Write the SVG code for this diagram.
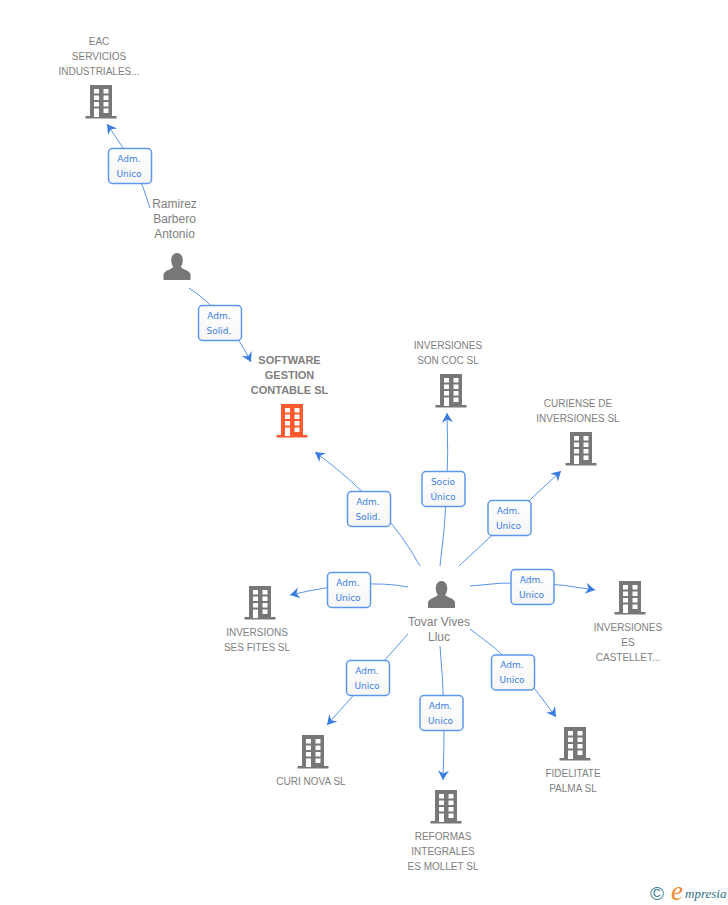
<svg xmlns="http://www.w3.org/2000/svg" width="728" height="905" viewBox="0 0 728 905">
<style>
.t{font-family:"Liberation Sans",Arial,sans-serif;font-size:10px;fill:#808080;text-anchor:middle}
.p{font-size:12px}
.b{font-size:11px;font-weight:bold}
.c{fill:none;stroke:#5a94ea;stroke-width:1;marker-end:url(#a)}
.box{fill:url(#g);stroke:#5c98ea;stroke-width:1.5}
.l{font-family:"DejaVu Sans",Verdana,sans-serif;font-size:9px;fill:#3a7de0;text-anchor:middle}
</style>
<defs>
<linearGradient id="g" x1="0" y1="0" x2="0" y2="1"><stop offset="0" stop-color="#fff"/><stop offset="1" stop-color="#f6f6f6"/></linearGradient>
<marker id="a" markerUnits="userSpaceOnUse" markerWidth="14" markerHeight="14" refX="12" refY="7" orient="auto" overflow="visible"><path d="M2.500 1.500L12 7L2.500 12.500L5.500 7Z" fill="#3a7de0"/></marker>
<g id="bld">
<path fill-rule="evenodd" d="M-11 0H11V31H15.500V33.500H-15.500V31H-11ZM-7 4V8.500H-2V4ZM2.500 4V8.500H7.500V4ZM-7 10.500V15H-2V10.500ZM2.500 10.500V15H7.500V10.500ZM-7 17V21.500H-2V17ZM2.500 17V21.500H7.500V17ZM-7 23.500V32H-2V23.500ZM2.500 23.500V28H7.500V23.500Z"/>
</g>
<path id="per" d="M-13.500 27V21.500Q-13 18.500 -8.500 17L-4 14.500V13.500Q-5.800 11 -5.800 7.500C-5.800 2.500 -3 0 0 0C3 0 5.800 2.500 5.800 7.500Q5.800 11 4 13.500V14.500L8.500 17Q13 18.500 13.500 21.500V27Z"/>
<rect id="bx" width="43" height="35" rx="4"/>
</defs>
<rect width="728" height="905" fill="#fff"/>
<g id="connectors">
<path class="c" d="M150 208Q139 168 107 124"/>
<path class="c" d="M189 288Q226 312 251 362"/>
<path class="c" d="M420 566Q386 504 315 452"/>
<path class="c" d="M440 566Q450 490 447 413"/>
<path class="c" d="M459 566L561 471"/>
<path class="c" d="M408 587Q362 578 290 595"/>
<path class="c" d="M470 586Q530 578 595 590"/>
<path class="c" d="M470 629Q516 660 556 717"/>
<path class="c" d="M408 634L327 725"/>
<path class="c" d="M440 646Q446 710 443 780"/>
</g>
<g id="n-eac" fill="#777"><use href="#bld" x="101" y="85"/><text class="t" x="99" y="45">EAC</text><text class="t" x="99" y="60">SERVICIOS</text><text class="t" x="99" y="75">INDUSTRIALES...</text></g>
<g id="n-ramirez" fill="#777"><use href="#per" x="177" y="253"/><text class="t p" x="174.500" y="208">Ramirez</text><text class="t p" x="174.500" y="223">Barbero</text><text class="t p" x="174.500" y="238">Antonio</text></g>
<g id="n-software" fill="#ff5a2d"><use href="#bld" x="292" y="404"/><text class="t b" x="289.500" y="364">SOFTWARE</text><text class="t b" x="289.500" y="379">GESTION</text><text class="t b" x="289.500" y="394">CONTABLE SL</text></g>
<g id="n-soncoc" fill="#777"><use href="#bld" x="451" y="374"/><text class="t" x="448" y="349">INVERSIONES</text><text class="t" x="448" y="364">SON COC SL</text></g>
<g id="n-curiense" fill="#777"><use href="#bld" x="581" y="432"/><text class="t" x="578" y="407">CURIENSE DE</text><text class="t" x="578" y="422">INVERSIONES SL</text></g>
<g id="n-fites" fill="#777"><use href="#bld" x="260" y="586"/><text class="t" x="257" y="636">INVERSIONS</text><text class="t" x="257" y="651">SES FITES SL</text></g>
<g id="n-castellet" fill="#777"><use href="#bld" x="630" y="581"/><text class="t" x="628" y="631">INVERSIONES</text><text class="t" x="628" y="646">ES</text><text class="t" x="628" y="661">CASTELLET...</text></g>
<g id="n-curinova" fill="#777"><use href="#bld" x="313" y="735"/><text class="t" x="311" y="785">CURI NOVA SL</text></g>
<g id="n-reformas" fill="#777"><use href="#bld" x="446" y="790"/><text class="t" x="443" y="840">REFORMAS</text><text class="t" x="443" y="855">INTEGRALES</text><text class="t" x="443" y="870">ES MOLLET SL</text></g>
<g id="n-fidelitate" fill="#777"><use href="#bld" x="575" y="727"/><text class="t" x="573" y="777">FIDELITATE</text><text class="t" x="573" y="792">PALMA SL</text></g>
<g id="n-tovar" fill="#777"><use href="#per" x="441.500" y="581"/><text class="t p" x="439" y="626">Tovar Vives</text><text class="t p" x="439" y="641">Lluc</text></g>
<g id="edge-labels">
<g transform="translate(108.500 148.500)"><use href="#bx" class="box"/><text class="l" x="20.500" y="13">Adm.</text><text class="l" x="20.500" y="28">Unico</text></g>
<g transform="translate(198.500 305.500)"><use href="#bx" class="box"/><text class="l" x="20.500" y="13">Adm.</text><text class="l" x="20.500" y="28">Solid.</text></g>
<g transform="translate(347.500 491.500)"><use href="#bx" class="box"/><text class="l" x="20.500" y="13">Adm.</text><text class="l" x="20.500" y="28">Solid.</text></g>
<g transform="translate(422 471.500)"><use href="#bx" class="box"/><text class="l" x="21" y="13">Socio</text><text class="l" x="21" y="28">Único</text></g>
<g transform="translate(488 500.500)"><use href="#bx" class="box"/><text class="l" x="20.500" y="13">Adm.</text><text class="l" x="20.500" y="28">Unico</text></g>
<g transform="translate(327.500 572.500)"><use href="#bx" class="box"/><text class="l" x="20.500" y="13">Adm.</text><text class="l" x="20.500" y="28">Unico</text></g>
<g transform="translate(511 569.500)"><use href="#bx" class="box"/><text class="l" x="20.500" y="13">Adm.</text><text class="l" x="20.500" y="28">Unico</text></g>
<g transform="translate(491.500 655)"><use href="#bx" class="box"/><text class="l" x="20.500" y="13">Adm.</text><text class="l" x="20.500" y="28">Unico</text></g>
<g transform="translate(346.500 660.500)"><use href="#bx" class="box"/><text class="l" x="20.500" y="13">Adm.</text><text class="l" x="20.500" y="28">Unico</text></g>
<g transform="translate(420 695.500)"><use href="#bx" class="box"/><text class="l" x="20.500" y="13">Adm.</text><text class="l" x="20.500" y="28">Unico</text></g>
</g>
<g id="logo">
<text x="650" y="900" font-family="'Liberation Sans',sans-serif" font-size="19" fill="#3f7f92">©</text>
<text x="671" y="900" font-family="'Liberation Serif',serif" font-style="italic" font-size="27" fill="#f28a2e">e</text>
<text x="685" y="898" font-family="'Liberation Serif',serif" font-style="italic" font-size="13" fill="#2f6f86">mpresia</text>
</g>
</svg>
